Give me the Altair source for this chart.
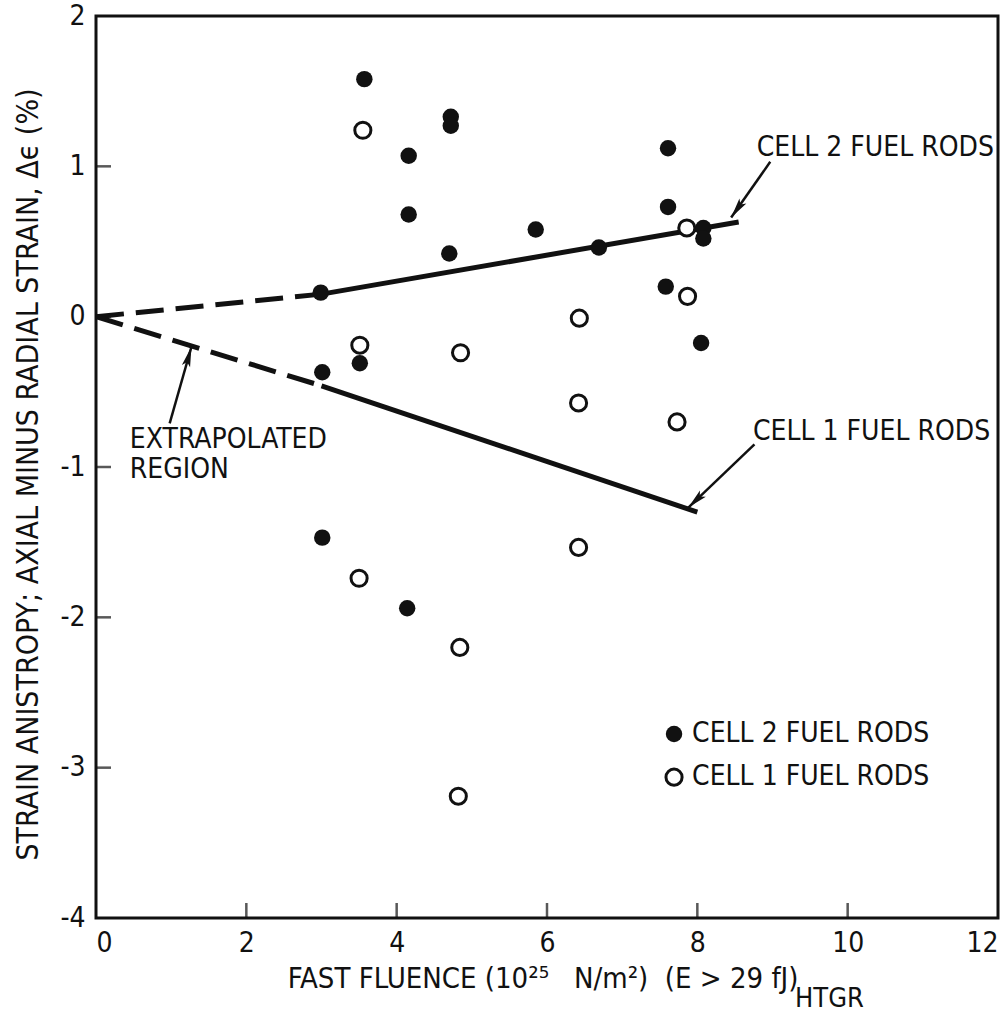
import altair as alt
import pandas as pd

FONT = "Liberation Sans Narrow, DejaVu Sans Condensed, Arial Narrow, sans-serif"
INK = "#111111"

# ---- data ----
cell2_x = [3.57, 4.72, 4.72, 4.16, 4.16, 5.85, 4.70, 6.69, 2.99, 3.51, 3.01,
           7.61, 7.61, 8.08, 8.08, 7.58, 8.05, 3.01, 4.14]
cell2_y = [1.58, 1.33, 1.27, 1.07, 0.68, 0.58, 0.42, 0.46, 0.16, -0.31, -0.37,
           1.12, 0.73, 0.59, 0.52, 0.20, -0.175, -1.47, -1.94]
cell1_x = [3.55, 6.43, 3.51, 4.85, 7.86, 7.87, 7.73, 6.42, 6.42, 3.50, 4.84, 4.82]
cell1_y = [1.24, -0.01, -0.19, -0.24, 0.59, 0.135, -0.70, -0.574, -1.535, -1.74, -2.20, -3.19]

# trend lines: origin -> start of data (dashed, extrapolated), then solid
line2_x = [0.0, 3.0, 8.55]
line2_y = [0.0, 0.15, 0.63]
line1_x = [0.0, 3.0, 8.0]
line1_y = [0.0, -0.46, -1.30]

x_ticks = [2, 4, 6, 8, 10]
y_ticks = [-3, -2, -1, 0, 1]
x_labels = [0, 2, 4, 6, 8, 10, 12]
y_labels = [-4, -3, -2, -1, 0, 1, 2]

# annotations (text + arrow)
ann_text = ["CELL 2 FUEL RODS", "CELL 1 FUEL RODS", "EXTRAPOLATED", "REGION"]
ann_x = [8.79, 8.74, 0.45, 0.45]
ann_y = [1.12, -0.77, -0.82, -1.02]
arrow_x = [8.97, 8.76, 0.98]
arrow_y = [1.03, -0.85, -0.71]
arrow_tx = [8.45, 7.88, 1.27]
arrow_ty = [0.66, -1.27, -0.20]
arrow_ang = [215.6, 226.2, 15.8]

legend_x = 7.69
legend_tx = 7.93
legend_y = [-2.776, -3.063]
legend_text = ["CELL 2 FUEL RODS", "CELL 1 FUEL RODS"]

NB = "\u00a0"
xtitle_text = "FAST FLUENCE (10\u00b2\u2075" + NB * 3 + "N/m\u00b2)" + NB * 2 + "(E > 29 fJ)"
xtitle_pos = (2.55, -4.466)
xsub_text = "HTGR"
xsub_pos = (9.30, -4.593)

xscale = alt.Scale(domain=[0, 12], nice=False, zero=False)
yscale = alt.Scale(domain=[-4, 2], nice=False, zero=False)

df2 = pd.DataFrame({"x": cell2_x, "y": cell2_y})
df1 = pd.DataFrame({"x": cell1_x, "y": cell1_y})

dashed = pd.DataFrame({
    "x": [line2_x[0], line2_x[1], line1_x[0], line1_x[1]],
    "y": [line2_y[0], line2_y[1], line1_y[0], line1_y[1]],
    "g": ["c2", "c2", "c1", "c1"]})
solid = pd.DataFrame({
    "x": [line2_x[1], line2_x[2], line1_x[1], line1_x[2]],
    "y": [line2_y[1], line2_y[2], line1_y[1], line1_y[2]],
    "g": ["c2", "c2", "c1", "c1"]})


def X(f="x", **kw):
    return alt.X(f"{f}:Q", scale=xscale, **kw)


def Y(f="y", **kw):
    return alt.Y(f"{f}:Q", scale=yscale, **kw)


base_axes = alt.Chart(pd.DataFrame({"x": [0.0], "y": [0.0]})).mark_point(opacity=0).encode(
    x=X(axis=alt.Axis(values=x_labels, title=None, labelFontSize=28, labelFont=FONT,
                      labelColor=INK, labelPadding=11, labelExpr="'' + datum.value",
                      ticks=False, domain=False, grid=False)),
    y=Y(axis=alt.Axis(values=y_labels,
                      title="STRAIN ANISTROPY; AXIAL MINUS RADIAL STRAIN, \u0394\u03f5 (%)",
                      labelFontSize=28, labelFont=FONT, labelColor=INK, labelPadding=11,
                      labelExpr="'' + datum.value",
                      ticks=False, domain=False, grid=False,
                      titleFont=FONT, titleFontSize=30, titleFontWeight="normal", titleColor=INK,
                      titleX=-59, titleY=458, titleAngle=270, titleBaseline="alphabetic",
                      titleAlign="center")),
)

xt = alt.Chart(pd.DataFrame({"x": x_ticks, "y": [-4] * len(x_ticks)})).mark_tick(
    orient="vertical", size=30, thickness=2.5, color=INK, clip=True).encode(x=X(), y=Y())
yt = alt.Chart(pd.DataFrame({"x": [0] * len(y_ticks), "y": y_ticks})).mark_tick(
    orient="horizontal", size=30, thickness=2.5, color=INK, clip=True).encode(x=X(), y=Y())

ldash = alt.Chart(dashed).mark_line(color=INK, strokeWidth=5, strokeDash=[28, 12]).encode(
    x=X(), y=Y(), detail="g:N")
lsolid = alt.Chart(solid).mark_line(color=INK, strokeWidth=5).encode(
    x=X(), y=Y(), detail="g:N")

p1 = alt.Chart(df1).mark_point(shape="circle", size=260, filled=False, fill="white",
                               fillOpacity=1, stroke=INK, strokeWidth=3, opacity=1).encode(x=X(), y=Y())
p2 = alt.Chart(df2).mark_point(shape="circle", size=270, filled=True, color=INK,
                               opacity=1).encode(x=X(), y=Y())

ann = alt.Chart(pd.DataFrame({"x": ann_x, "y": ann_y, "t": ann_text})).mark_text(
    align="left", baseline="middle", font=FONT, fontSize=28, color=INK).encode(
    x=X(), y=Y(), text="t:N")

shafts = alt.Chart(pd.DataFrame({"x": arrow_x, "y": arrow_y, "x2": arrow_tx, "y2": arrow_ty})).mark_rule(
    color=INK, strokeWidth=2.5).encode(x=X(), y=Y(), x2="x2:Q", y2="y2:Q")
heads = alt.Chart(pd.DataFrame({"x": arrow_tx, "y": arrow_ty, "a": arrow_ang})).mark_point(
    shape="M0,0L-0.4,1.9L0,1.5L0.4,1.9Z", size=450, filled=True, color=INK, opacity=1).encode(
    x=X(), y=Y(), angle=alt.Angle("a:Q", scale=None))

leg_pts_f = alt.Chart(pd.DataFrame({"x": [legend_x], "y": [legend_y[0]]})).mark_point(
    shape="circle", size=270, filled=True, color=INK, opacity=1).encode(x=X(), y=Y())
leg_pts_o = alt.Chart(pd.DataFrame({"x": [legend_x], "y": [legend_y[1]]})).mark_point(
    shape="circle", size=260, filled=False, stroke=INK, strokeWidth=3, opacity=1).encode(x=X(), y=Y())
leg_txt = alt.Chart(pd.DataFrame({"x": [legend_tx] * 2, "y": legend_y, "t": legend_text})).mark_text(
    align="left", baseline="middle", font=FONT, fontSize=28, color=INK).encode(x=X(), y=Y(), text="t:N")

xtitle = alt.Chart(pd.DataFrame({"x": [xtitle_pos[0]], "y": [xtitle_pos[1]], "t": [xtitle_text]})).mark_text(
    align="left", baseline="alphabetic", font=FONT, fontSize=29, color=INK).encode(x=X(), y=Y(), text="t:N")
xsub = alt.Chart(pd.DataFrame({"x": [xsub_pos[0]], "y": [xsub_pos[1]], "t": [xsub_text]})).mark_text(
    align="left", baseline="alphabetic", font=FONT, fontSize=27, color=INK).encode(x=X(), y=Y(), text="t:N")

chart = alt.layer(base_axes, xt, yt, ldash, lsolid, p1, p2, shafts, heads, ann,
                  leg_pts_f, leg_pts_o, leg_txt, xtitle, xsub).properties(
    width=902, height=902,
    autosize=alt.AutoSizeParams(type="none"),
    padding={"left": 96, "top": 16, "right": 8, "bottom": 101},
    background="white",
).configure_view(stroke=INK, strokeWidth=3)

chart.save("out.html", embed_options={"renderer": "svg", "actions": False})
